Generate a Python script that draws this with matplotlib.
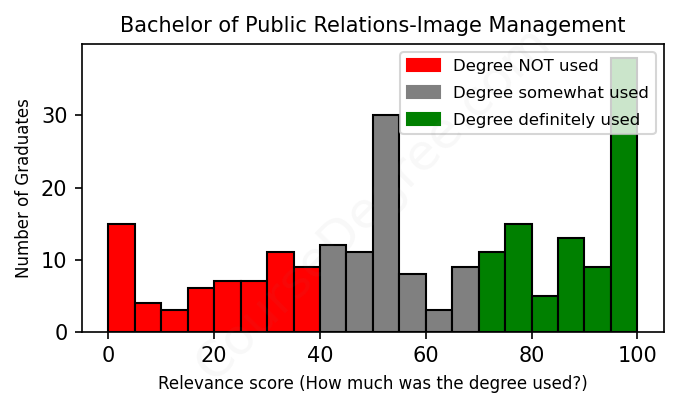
import matplotlib
matplotlib.use("Agg")
import matplotlib.pyplot as plt
import numpy as np
from matplotlib.patches import Patch

bin_edges = list(range(0, 105, 5))
counts = [15, 4, 3, 6, 7, 7, 11, 9,
          12, 11, 30, 8, 3, 9,
          11, 15, 5, 13, 9, 38]
colors_by_bin = ['red'] * 8 + ['gray'] * 6 + ['green'] * 6
legend_labels = ['Degree NOT used', 'Degree somewhat used', 'Degree definitely used']
legend_colors = ['red', 'gray', 'green']

fig, ax = plt.subplots(figsize=(4.52, 2.72), dpi=150)
left = np.array(bin_edges[:-1])
width = np.diff(bin_edges)
ax.bar(left, counts, width=width, align='edge', color=colors_by_bin,
       edgecolor='black', linewidth=1.0)

ax.set_title('Bachelor of Public Relations-Image Management', fontsize=10)
ax.set_xlabel('Relevance score (How much was the degree used?)', fontsize=8)
ax.set_ylabel('Number of Graduates', fontsize=8)
ax.tick_params(labelsize=10)
ax.set_xticks([0, 20, 40, 60, 80, 100])
ax.set_yticks([0, 10, 20, 30])

handles = [Patch(color=c, label=l) for c, l in zip(legend_colors, legend_labels)]
ax.legend(handles=handles, loc='upper right', fontsize=7.9,
          labelspacing=0.72, handleheight=0.8)

fig.text(0.55, 0.5, 'CourseDegree.com', fontsize=24, color='gray', alpha=0.06,
         rotation=45, ha='center', va='center')

fig.subplots_adjust(left=0.121, right=0.979, top=0.892, bottom=0.187)
fig.savefig('out.png', dpi=150)
